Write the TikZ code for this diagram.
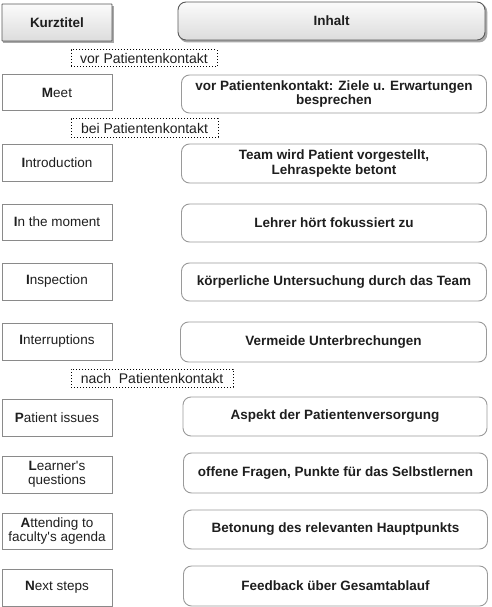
\documentclass[tikz,border=0pt]{standalone}
\usepackage{fontspec}
\setmainfont{Liberation Sans}[Ligatures=TeXOff]
\pgfdeclarelayer{background}
\pgfsetlayers{background,main}
\definecolor{txt}{HTML}{1E1E1E}
\definecolor{bordl}{HTML}{8A8A8A}
\definecolor{bordr}{HTML}{9A9A9A}
\definecolor{headtop}{HTML}{FBFBFB}
\definecolor{headbot}{HTML}{DCDCDC}
\definecolor{shad}{HTML}{A8A8A8}
\tikzset{
  base/.style={inner sep=0pt, align=center, text=txt, font=\fontsize{13.5}{14.3}\selectfont},
  lbox/.style={base, draw=bordl, line width=0.9pt, minimum width=110pt},
  rbox/.style={base, draw=bordr, line width=0.9pt, rounded corners=8pt, font=\bfseries\fontsize{13.5}{14.3}\selectfont},
  phase/.style={base, draw=black, dotted, line width=1pt, font=\fontsize{14}{15}\selectfont, minimum height=17pt},
  headl/.style={lbox, draw=gray!70!black, rounded corners=0.6pt, top color=headtop, bottom color=headbot, font=\bfseries\fontsize{13.5}{14.3}\selectfont},
  headr/.style={rbox, draw=gray!70!black, top color=headtop, bottom color=headbot},
  shadowbox/.style={fill=shad},
}
\begin{document}
\begin{tikzpicture}[x=1pt,y=1pt]
\useasboundingbox (0,0) rectangle (491,-607);
% headers
\node[headl, minimum height=37pt] (kurz) at (57,-22.5) {Kurztitel};
\node[headr, minimum width=307pt, minimum height=38pt] (inhalt) at (331.5,-21) {Inhalt};
\begin{pgfonlayer}{background}
\fill[shadowbox] ([shift={(1.8pt,-2pt)}]kurz.south west) rectangle ([shift={(1.8pt,-2pt)}]kurz.north east);
\fill[shadowbox, rounded corners=8pt] ([shift={(1.8pt,-2pt)}]inhalt.south west) rectangle ([shift={(1.8pt,-2pt)}]inhalt.north east);
\end{pgfonlayer}
% phase labels
\node[phase, minimum width=146pt] (vor) at (144,-58.5) {vor Patientenkontakt};
\node[phase, minimum width=147pt, minimum height=18pt] (bei) at (144.5,-128) {bei Patientenkontakt};
\node[phase, minimum width=162pt, minimum height=18pt] (nach) at (152,-378) {nach\ \ Patientenkontakt};
% left column
\node[lbox, minimum height=36pt] (meet) at (57,-92.5) {\textbf{M}eet};
\node[lbox, minimum height=37pt] (intro) at (57,-162.5) {\textbf{I}ntroduction};
\node[lbox, minimum height=36pt] (moment) at (57,-222) {\textbf{I}n the moment};
\node[lbox, minimum height=37pt] (insp) at (57,-281.5) {\textbf{I}nspection};
\node[lbox, minimum height=37pt] (interr) at (57,-341.5) {\textbf{I}nterruptions};
\node[lbox, minimum height=37pt] (pat) at (57,-417.5) {\textbf{P}atient issues};
\node[lbox, minimum height=37pt] (learn) at (57,-474.5) {\textbf{L}earner's\\questions};
\node[lbox, minimum height=36pt] (att) at (57,-531) {\textbf{A}ttending to\\faculty's agenda};
\node[lbox, minimum height=37pt] (next) at (57,-587.5) {\textbf{N}ext steps};
% right column
\node[rbox, minimum width=305pt, minimum height=38pt] (meetr) at (334,-94) {vor Patientenkontakt: Ziele u. Erwartungen\\besprechen};
\node[rbox, minimum width=305pt, minimum height=39pt] (intror) at (334,-163.5) {Team wird Patient vorgestellt,\\Lehraspekte betont};
\node[rbox, minimum width=305pt, minimum height=38pt] (momentr) at (334,-223) {Lehrer hört fokussiert zu};
\node[rbox, minimum width=305pt, minimum height=38pt] (inspr) at (334,-282) {körperliche Untersuchung durch das Team};
\node[rbox, minimum width=306pt, minimum height=40pt] (interrr) at (333.5,-342) {Vermeide Unterbrechungen};
\node[rbox, minimum width=304pt, minimum height=39pt] (patr) at (335,-416.5) {Aspekt der Patientenversorgung};
\node[rbox, minimum width=304pt, minimum height=40pt] (learnr) at (335.5,-473) {offene Fragen, Punkte für das Selbstlernen};
\node[rbox, minimum width=304pt, minimum height=39pt] (attr) at (335.5,-529.5) {Betonung des relevanten Hauptpunkts};
\node[rbox, minimum width=304pt, minimum height=40pt] (nextr) at (335.5,-586) {Feedback über Gesamtablauf};
\end{tikzpicture}
\end{document}
